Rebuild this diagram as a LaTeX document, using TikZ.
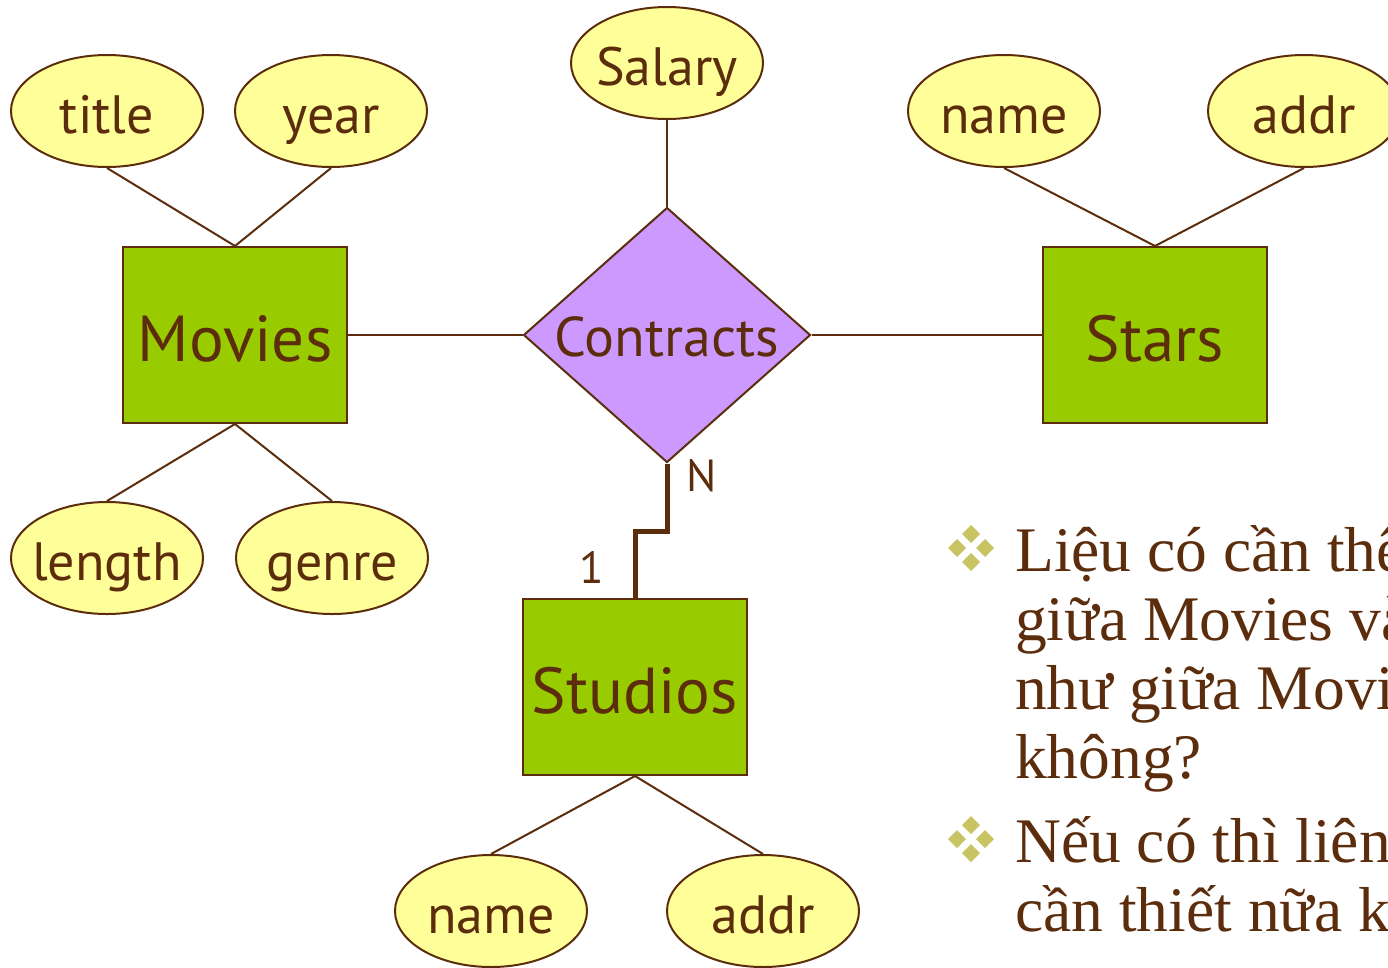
\documentclass[tikz,border=0pt]{standalone}
\usepackage{fontspec}
\setmainfont{Liberation Serif}
\newfontfamily\diagfont{PT Sans}
\usetikzlibrary{shapes.geometric}

\definecolor{erbrown}{RGB}{92,45,12}
\definecolor{attrfill}{RGB}{255,255,153}
\definecolor{entfill}{RGB}{153,204,0}
\definecolor{relfill}{RGB}{204,153,255}
\definecolor{bulletcol}{RGB}{200,196,100}

\tikzset{
  attr/.style={ellipse, draw=erbrown, line width=2pt, fill=attrfill, minimum width=192pt, minimum height=112pt, inner sep=-10pt, text height=48pt, text depth=4pt, text=erbrown, font=\diagfont\fontsize{54}{54}\selectfont},
  entity/.style={rectangle, draw=erbrown, line width=2pt, fill=entfill, minimum width=224pt, minimum height=176pt, inner sep=0pt, text height=62pt, text depth=10pt, text=erbrown, font=\diagfont\fontsize{65}{65}\selectfont},
  rel/.style={diamond, draw=erbrown, line width=2pt, fill=relfill, minimum width=287pt, minimum height=255pt, inner sep=-20pt, text height=42pt, text depth=0pt, text=erbrown, font=\diagfont\fontsize{56}{56}\selectfont},
  link/.style={draw=erbrown, line width=2pt},
  card/.style={text=erbrown, inner sep=0pt, font=\diagfont\fontsize{45}{45}\selectfont},
  bullettext/.style={text=erbrown, anchor=base west, inner sep=0pt, font=\fontsize{63.5}{69}\selectfont}
}

% four small diamonds as bullet
\newcommand\ermark[2]{%
  \foreach \dx/\dy in {0/-14,-14/0,14/0,0/14}
    \fill[bulletcol] (#1+\dx,#2+\dy) +(0,-9) -- +(9,0) -- +(0,9) -- +(-9,0) -- cycle;}

\begin{document}
\begin{tikzpicture}[x=1pt, y=-1pt]
	\useasboundingbox (0,0) rectangle (1388,967);
	\clip (0,0) rectangle (1388,967);
	% entities and relationship
	\node(MOVIES) at (235,335)[entity]{Movies};
	\node(STARS) at (1155,335)[entity]{Stars};
	\node(STUDIOS) at (635,687)[entity]{Studios};
	\node(CONTRACTS) at (667,335)[rel]{Contracts};
	% attributes
	\node(TITLE) at (107,111)[attr]{title};
	\node(YEAR) at (331,111)[attr]{year};
	\node(LENGTH) at (107,558)[attr]{length};
	\node(GENRE) at (332,558)[attr]{genre};
	\node(SALARY) at (667,63)[attr]{Salary};
	\node(SNAME) at (1004,111)[attr]{name};
	\node(SADDR) at (1304,111)[attr]{addr};
	\node(STNAME) at (491,911)[attr]{name};
	\node(STADDR) at (763,911)[attr]{addr};
	% links
	\draw[link] (TITLE.south) -- (MOVIES.north);
	\draw[link] (YEAR.south) -- (MOVIES.north);
	\draw[link] (MOVIES.south) -- (LENGTH.north);
	\draw[link] (MOVIES.south) -- (GENRE.north);
	\draw[link] (SALARY.south) -- (CONTRACTS.north);
	\draw[link] (MOVIES.east) -- (CONTRACTS.west);
	\draw[link] (CONTRACTS.east) -- (STARS.west);
	\draw[link] (SNAME.south) -- (STARS.north);
	\draw[link] (SADDR.south) -- (STARS.north);
	\draw[link] (STUDIOS.south) -- (STNAME.north);
	\draw[link] (STUDIOS.south) -- (STADDR.north);
	\draw[erbrown, line width=5pt] (CONTRACTS.south) -- ++(0,68) -| (STUDIOS.north);
	\node(N) at (702,476)[card]{N};
	\node(ONE) at (592,567)[card]{1};
	% question text
	\ermark{971}{548}
	\ermark{971}{839}
	\node(L1) at (1015,571)[bullettext]{Liệu có cần thêm};
	\node(L2) at (1015,640)[bullettext]{giữa Movies và};
	\node(L3) at (1015,709)[bullettext]{như giữa Movies};
	\node(L4) at (1015,778)[bullettext]{không?};
	\node(L5) at (1015,862)[bullettext]{Nếu có thì liên};
	\node(L6) at (1015,931)[bullettext]{cần thiết nữa không?};
\end{tikzpicture}
\end{document}
